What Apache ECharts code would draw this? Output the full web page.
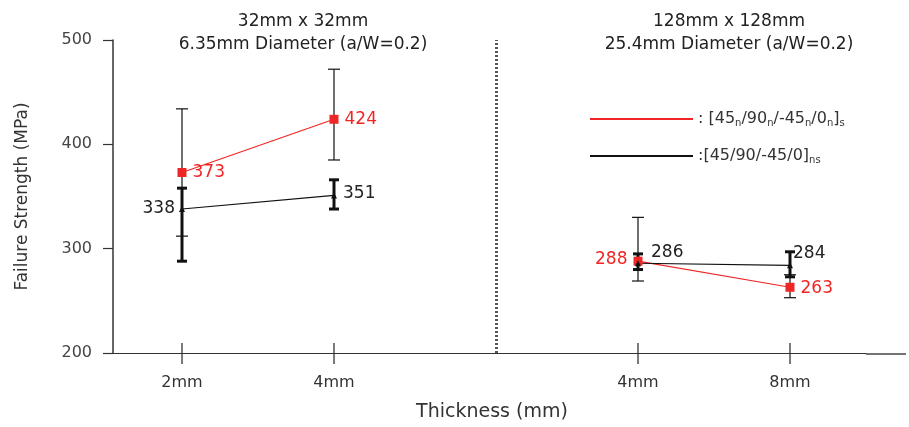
<!DOCTYPE html>
<html>
<head>
<meta charset="utf-8">
<script src="https://cdn.jsdelivr.net/npm/echarts@6/dist/echarts.min.js"></script>
<style>
  html, body { margin: 0; padding: 0; background: #fff; }
  #chart { width: 909px; height: 427px; }
</style>
</head>
<body>
<div id="chart"></div>
<script>
// categories on the thickness axis (the blank one is the gap between the two panel sizes)
const categories = ['2mm', '4mm', '', '4mm', '8mm'];
const positions = [0, 1, 3, 4];
const dividerAt = 2.07;

// [45n/90n/-45n/0n]s  (red)
const redMean = [373, 424, 288, 263];
const redLow = [312, 385, 269, 253];
const redHigh = [434, 472, 330, 275];

// [45/90/-45/0]ns  (black)
const blackMean = [338, 351, 286, 284];
const blackLow = [288, 338, 280, 273];
const blackHigh = [358, 366, 295, 297];

const yTicks = [200, 300, 400, 500];

// label placement per point
const redLabelPos = ['right', 'right', 'left', 'right'];
const redLabelOffset = [[0, 0], [0, 0], [0, -2], [0, 1]];
const blackLabelPos = ['left', 'right', 'right', 'right'];
const blackLabelOffset = [[2, 0], [0, -2], [4, -11], [-6, -12]];

const RED = '#f02626';
const font = 'DejaVu Sans, sans-serif';

function pts(mean, pos, off, color) {
  return positions.map((x, i) => ({
    value: [x, mean[i]],
    label: { position: pos[i], offset: off[i], color: color }
  }));
}

function group(arr, g) {
  // g = 0 -> left panel, g = 1 -> right panel
  return arr.slice(g * 2, g * 2 + 2);
}

function errData(low, high) {
  return positions.map((x, i) => [x, low[i], high[i]]);
}

function errSeries(name, low, high, width, cap) {
  return {
    type: 'custom',
    name: name,
    xAxisIndex: 0,
    silent: true,
    z: 3,
    data: errData(low, high),
    renderItem: function (params, api) {
      const x = api.value(0);
      const lo = api.coord([x, api.value(1)]);
      const hi = api.coord([x, api.value(2)]);
      const st = { stroke: '#111', lineWidth: width };
      return {
        type: 'group',
        children: [
          { type: 'line', shape: { x1: lo[0], y1: lo[1], x2: hi[0], y2: hi[1] }, style: st },
          { type: 'line', shape: { x1: lo[0] - cap, y1: lo[1], x2: lo[0] + cap, y2: lo[1] }, style: st },
          { type: 'line', shape: { x1: hi[0] - cap, y1: hi[1], x2: hi[0] + cap, y2: hi[1] }, style: st }
        ]
      };
    }
  };
}

function lineSeries(name, data, color, symbol, size) {
  return {
    type: 'line',
    name: name,
    xAxisIndex: 0,
    data: data,
    symbol: symbol,
    symbolSize: size,
    z: 5,
    lineStyle: { color: color, width: 1.2 },
    itemStyle: { color: color },
    label: { show: true, fontSize: 17, fontFamily: font, distance: 6 }
  };
}

const redPts = pts(redMean, redLabelPos, redLabelOffset, RED);
const blackPts = pts(blackMean, blackLabelPos, blackLabelOffset, '#222');

const chart = echarts.init(document.getElementById('chart'));
chart.setOption({
  animation: false,
  backgroundColor: '#fff',
  title: [
    {
      text: '32mm x 32mm\n6.35mm Diameter (a/W=0.2)',
      left: 298, top: 5, textAlign: 'center',
      textStyle: { fontSize: 17, fontWeight: 'normal', color: '#222', fontFamily: font, lineHeight: 23 }
    },
    {
      text: '128mm x 128mm\n25.4mm Diameter (a/W=0.2)',
      left: 724, top: 5, textAlign: 'center',
      textStyle: { fontSize: 17, fontWeight: 'normal', color: '#222', fontFamily: font, lineHeight: 23 }
    }
  ],
  legend: {
    orient: 'vertical',
    left: 585, top: 106,
    itemWidth: 103, itemHeight: 2, itemGap: 20,
    icon: 'rect',
    data: ['red', 'black'],
    formatter: function (n) {
      return n === 'red'
        ? ': [45{s|n}/90{s|n}/-45{s|n}/0{s|n}]{s|s}'
        : ':[45/90/-45/0]{s|ns}';
    },
    textStyle: {
      fontSize: 16, color: '#333', fontFamily: font,
      rich: { s: { fontSize: 10, color: '#333', fontFamily: font, verticalAlign: 'bottom', padding: [8, 0, 0, 0] } }
    }
  },
  grid: { left: 106, right: 43, top: 40, bottom: 74 },
  xAxis: [
    {
      type: 'value', min: -0.5, max: 4.5, show: false, position: 'bottom',
      axisLine: { onZero: false }
    },
    {
      type: 'category', data: categories, boundaryGap: true, position: 'bottom',
      name: 'Thickness (mm)', nameLocation: 'middle', nameGap: 50,
      nameTextStyle: { fontSize: 19, color: '#333', fontFamily: font, padding: [0, 0, 0, 12] },
      axisLine: { onZero: false, lineStyle: { color: '#333', width: 1.2 } },
      axisTick: { show: false },
      axisLabel: { fontSize: 16, color: '#333', fontFamily: font, margin: 22, interval: 0 }
    }
  ],
  yAxis: {
    type: 'value', min: 200, max: 500, interval: 100, offset: -7, position: 'left',
    name: 'Failure Strength (MPa)', nameLocation: 'middle', nameGap: 82,
    nameTextStyle: { fontSize: 17, color: '#333', fontFamily: font },
    splitLine: { show: false },
    axisLine: { show: true, onZero: false, lineStyle: { color: '#333', width: 1.5 } },
    axisTick: { show: true, length: 10, lineStyle: { color: '#333', width: 1.2 } },
    axisLabel: { fontSize: 16, color: '#444', fontFamily: font, margin: 21, formatter: (v) => (yTicks.includes(v) ? String(v) : '') }
  },
  graphic: [
    { type: 'line', shape: { x1: 866, y1: 354, x2: 906, y2: 354 }, style: { stroke: '#444', lineWidth: 1.5 } }
  ],
  series: [
    {
      // tick marks crossing the thickness axis at each category
      type: 'custom', name: 'xticks', xAxisIndex: 0, silent: true,
      data: positions.map((x) => [x, yTicks[0]]),
      renderItem: function (params, api) {
        const p = api.coord([api.value(0), api.value(1)]);
        return {
          type: 'line',
          shape: { x1: p[0], y1: p[1] - 10, x2: p[0], y2: p[1] + 11 },
          style: { stroke: '#333', lineWidth: 1.3 }
        };
      }
    },
    errSeries('redErr', redLow, redHigh, 1.2, 6),
    errSeries('blackErr', blackLow, blackHigh, 3, 5),
    lineSeries('red', group(redPts, 0), RED, 'rect', 9),
    lineSeries('red', group(redPts, 1), RED, 'rect', 9),
    lineSeries('black', group(blackPts, 0), '#111', 'triangle', 6),
    lineSeries('black', group(blackPts, 1), '#111', 'triangle', 6),
    {
      type: 'line', name: 'divider', xAxisIndex: 0, data: [], silent: true,
      markLine: {
        symbol: 'none', silent: true, label: { show: false },
        lineStyle: { color: '#555', type: [2, 2], width: 3 },
        data: [{ xAxis: dividerAt }]
      }
    }
  ]
});
</script>
</body>
</html>
